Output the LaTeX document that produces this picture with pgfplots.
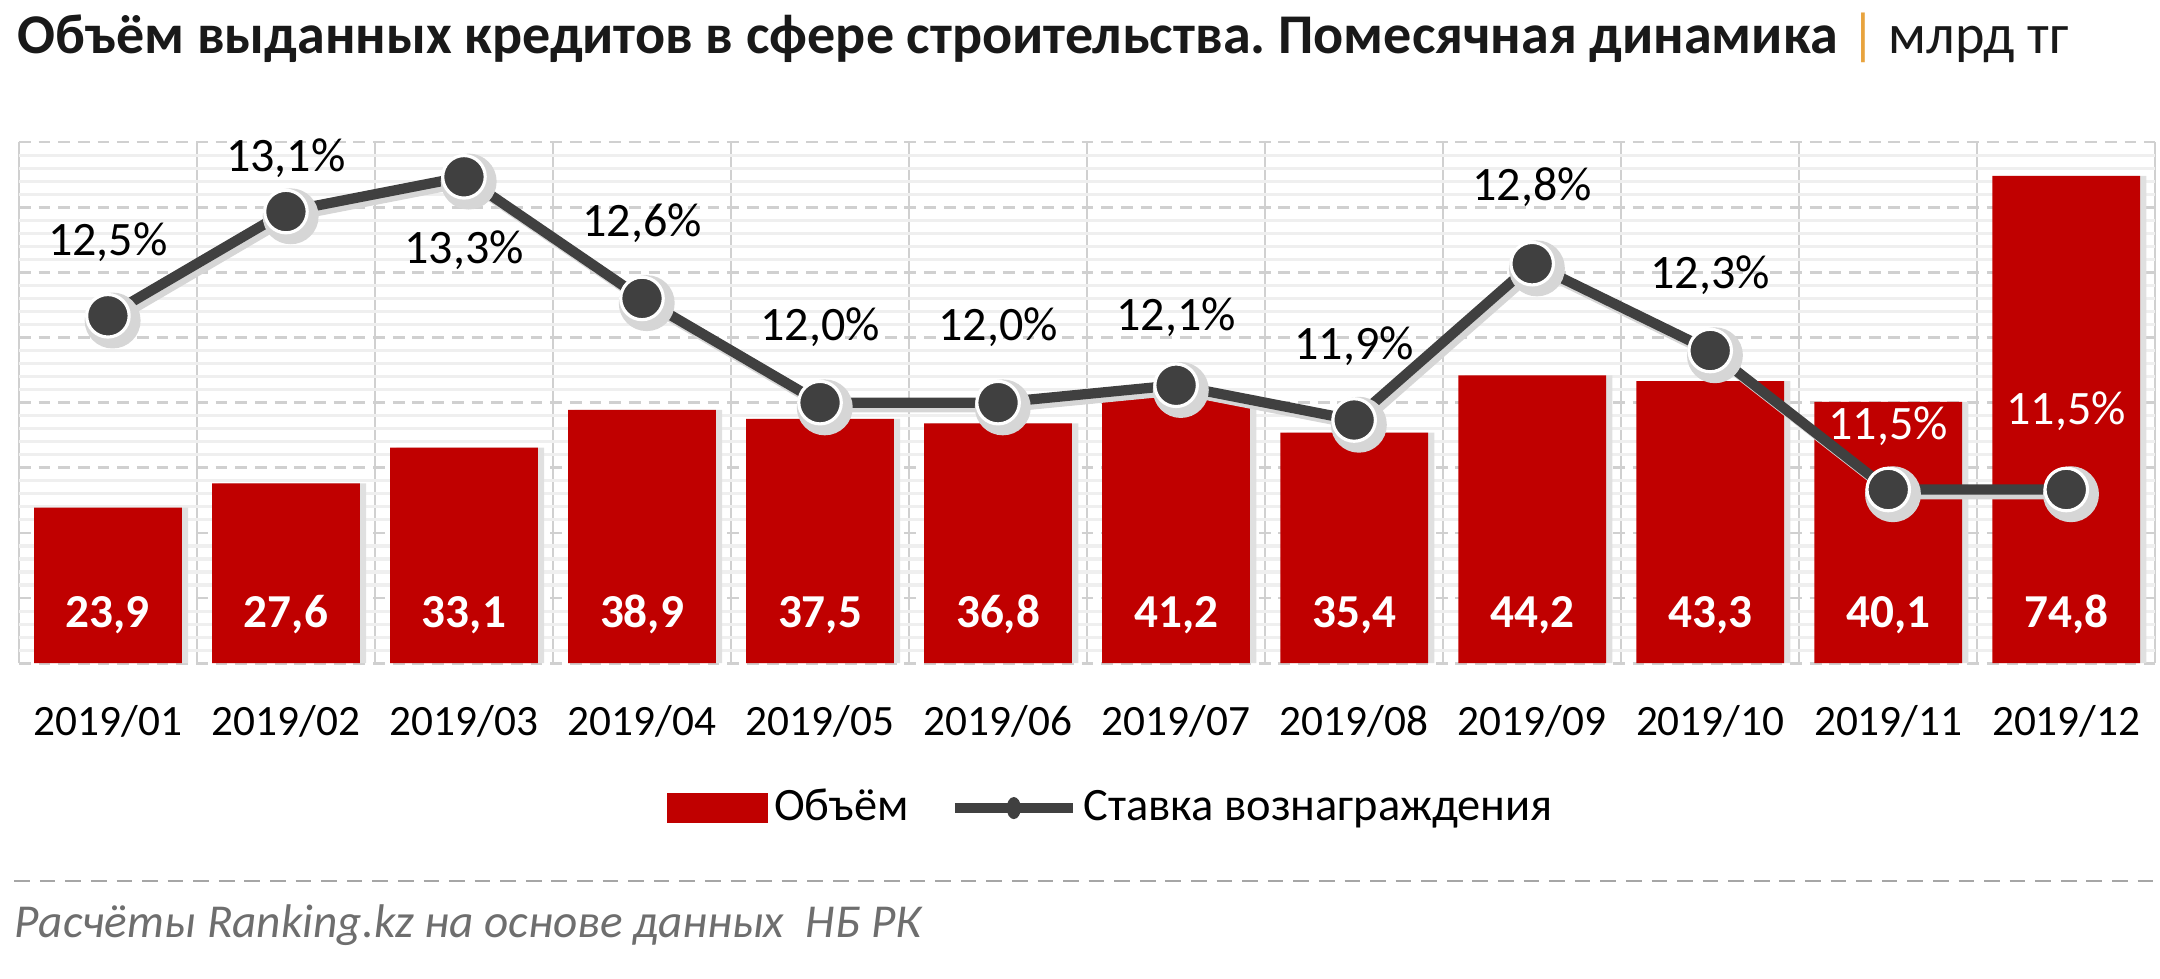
\documentclass[border=0pt]{standalone}
\usepackage{fontspec}
\setmainfont{Carlito}
\usepackage{pgfplots}
\usepackage{pgfplotstable}
\pgfplotsset{compat=1.18}
\frenchspacing

\definecolor{barred}{HTML}{C00000}
\definecolor{linegray}{HTML}{404040}
\definecolor{gridgray}{HTML}{D0D0D0}
\definecolor{minorgray}{HTML}{EFEFEF}
\definecolor{titleorange}{HTML}{E8A33D}
\definecolor{srcgray}{HTML}{6E6E6E}

% monthly volume, bn tenge
\pgfplotstableread{
x vol
0 23.9
1 27.6
2 33.1
3 38.9
4 37.5
5 36.8
6 41.2
7 35.4
8 44.2
9 43.3
10 40.1
11 74.8
}\voltable

% interest rate, %; dy = label baseline offset (pt), w = 100 for a white label
\pgfplotstableread{
x rate dy w
0 12.5 15.2 0
1 13.1 10.2 0
2 13.3 -21.9 0
3 12.6 15.8 0
4 12.0 15.8 0
5 12.0 15.8 0
6 12.1 14.0 0
7 11.9 15.5 0
8 12.8 16.0 0
9 12.3 15.8 0
10 11.5 12.7 100
11 11.5 16.5 100
}\ratetable

\begin{document}
\begin{tikzpicture}
\path[use as bounding box] (0,0) rectangle (548.8pt,-248.5pt);

\node[anchor=base west, inner sep=0, text=black!90] at (4.3pt,-13.5pt)
  {\fontsize{14.25}{17}\selectfont\bfseries Объём выданных кредитов в сфере строительства. Помесячная динамика
   {\mdseries\color{titleorange}|} {\mdseries млрд тг}};

\begin{axis}[
  at={(4.8pt,-168.5pt)}, anchor=south west,
  width=542.8pt, height=132.4pt, scale only axis,
  xmin=-0.5, xmax=11.5, ymin=0, ymax=80,
  xtick={0,...,11},
  xticklabels={2019/01,2019/02,2019/03,2019/04,2019/05,2019/06,2019/07,2019/08,2019/09,2019/10,2019/11,2019/12},
  xticklabel style={anchor=base, yshift=-18.3pt, font=\fontsize{11}{13}\selectfont},
  minor xtick={-0.5,0.5,...,11.5},
  ytick={0,10,...,80}, yticklabels={},
  minor y tick num=4,
  major tick length=0, minor tick length=0,
  xminorgrids=true, ymajorgrids=true, yminorgrids=true,
  minor x grid style={draw=gridgray, line width=0.5pt},
  major y grid style={draw=gridgray, line width=0.7pt, dash pattern=on 3pt off 2pt},
  minor y grid style={draw=minorgray, line width=0.8pt},
  axis line style={draw=none},
  ybar, bar width=0.83,
  /pgf/number format/assume math mode=true,
]
\addplot[fill=black!12, draw=none, bar shift=1.6pt, forget plot]
  table[x=x, y=vol]{\voltable};
\addplot[fill=barred, draw=none, bar shift=0pt,
  point meta=rawy,
  visualization depends on={rawy \as \rawy},
  nodes near coords={\pgfmathprintnumber[fixed,fixed zerofill,precision=1,use comma]{\pgfplotspointmeta}},
  every node near coord/.append style={anchor=base, text=white,
    font=\fontsize{12}{14}\selectfont\bfseries,
    yshift={-\rawy*1.655pt+9.15pt}}]
  table[x=x, y=vol]{\voltable};
\end{axis}

\begin{axis}[
  at={(4.8pt,-168.5pt)}, anchor=south west,
  width=542.8pt, height=132.4pt, scale only axis,
  xmin=-0.5, xmax=11.5, ymin=10.5, ymax=13.5,
  hide axis, clip=false,
  /pgf/number format/assume math mode=true,
  legend style={at={(0.512,-0.278)}, anchor=center, draw=none, fill=none,
    legend columns=-1, font=\fontsize{11.8}{13}\selectfont,
    nodes={inner sep=1.5pt},
    /tikz/every even column/.append style={column sep=9pt}},
]
\addlegendimage{legend image code/.code={\fill[barred] (0pt,-3.7pt) rectangle (25.4pt,3.7pt);}}
\addlegendentry{Объём}
\addlegendimage{legend image code/.code={
    \draw[linegray, line width=2.4pt] (0pt,0pt) -- (30pt,0pt);
    \fill[linegray] (15pt,0pt) ellipse (1.6pt and 2.6pt);}}
\addlegendentry{Ставка вознаграждения}

\addplot[forget plot, draw=black!16, line width=2.6pt, xshift=1.2pt, yshift=-1.2pt,
  mark=*, mark size=5.8pt, mark options={fill=black!16, draw=none}]
  table[x=x, y=rate]{\ratetable};

\addplot[forget plot, draw=linegray, line width=2.6pt,
  mark=*, mark size=5.4pt, mark options={fill=linegray, draw=white, line width=0.8pt},
  point meta=explicit,
  visualization depends on={\thisrow{dy} \as \dy},
  visualization depends on={\thisrow{w} \as \w},
  nodes near coords={\pgfmathprintnumber[fixed,fixed zerofill,precision=1,use comma]{\pgfplotspointmeta}\%},
  every node near coord/.append style={anchor=base, text=white!\w!black,
    font=\fontsize{12.2}{14}\selectfont, yshift=\dy pt}]
  table[x=x, y=rate, meta=rate]{\ratetable};
\end{axis}

\draw[black!35, line width=0.6pt, dash pattern=on 4pt off 2.5pt] (3.6pt,-223.9pt) -- (547.5pt,-223.9pt);
\node[anchor=base west, inner sep=0, text=srcgray] at (3.6pt,-238.1pt)
  {\fontsize{12}{14}\selectfont\itshape Расчёты Ranking.kz на основе данных~ НБ РК};
\end{tikzpicture}
\end{document}
